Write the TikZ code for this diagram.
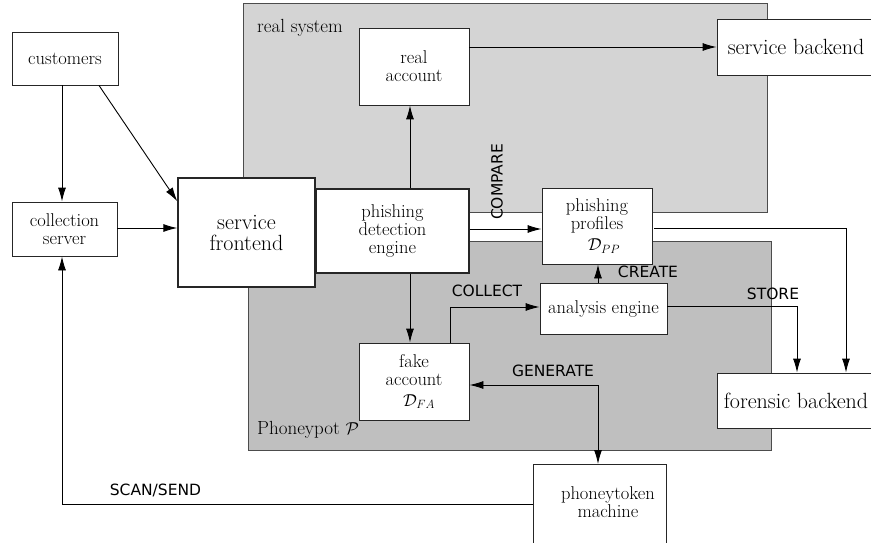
\documentclass[tikz,border=0pt]{standalone}
\usepackage{fontspec}
\newfontfamily\lblfont{DejaVu Sans}
\usetikzlibrary{arrows.meta,calc}
\begin{document}
\begin{tikzpicture}[x=1pt,y=-1pt,
  box/.style={draw=black!85, line width=0.9pt, fill=white, inner sep=0pt, align=center, font=\fontsize{18.5}{18}\selectfont},
  bigbox/.style={box, font=\fontsize{22}{21}\selectfont},
  region/.style={draw=black!70, line width=0.9pt},
  arr/.style={line width=0.9pt, -{Latex[length=14pt,width=8pt]}},
  arrb/.style={line width=0.9pt, {Latex[length=14pt,width=8pt]}-{Latex[length=14pt,width=8pt]}},
  lbl/.style={font=\lblfont\fontsize{15.5}{16}\selectfont, inner sep=0pt},
  rlbl/.style={font=\fontsize{19}{17}\selectfont, inner sep=0pt, anchor=west}]
\useasboundingbox (0,0) rectangle (871,543);
% regions
\fill[black!17] (243,3) rectangle (767,212);
\draw[region] (243,3) rectangle (767,212);
\fill[black!25] (248,241) rectangle (771,450);
\draw[region] (248,241) rectangle (771,450);
\node[rlbl] (rsl) at (257,28) {real system};
\node[rlbl] (ppl) at (257,430) {Phoneypot $\mathcal{P}$};
% nodes
\node[box, minimum width=106pt, minimum height=53pt] (cust) at (65,58.5) {customers};
\node[box, minimum width=105pt, minimum height=54pt] (coll) at (64.5,229) {collection\\server};
\node[bigbox, line width=1.4pt, minimum width=137pt, minimum height=109pt] (sf) at (246.5,232.5) {service\\frontend};
\node[box, minimum width=110pt, minimum height=77pt] (ra) at (414,66.5) {real\\account};
\node[bigbox, minimum width=158pt, minimum height=56pt] (sb) at (796,47) {service backend};
\node[box, line width=1.4pt, minimum width=153pt, minimum height=84pt] (pde) at (392.5,231) {phishing\\detection\\engine};
\node[box, minimum width=110pt, minimum height=76pt] (pp) at (597,226) {phishing\\profiles\\[3pt]\hspace*{14pt}$\mathcal{D}_{PP}$};
\node[box, minimum width=127pt, minimum height=51pt] (ae) at (603.5,308.5) {analysis engine};
\node[box, minimum width=110pt, minimum height=77pt] (fa) at (414,381.5) {fake\\account\\[3pt]\hspace*{10pt}$\mathcal{D}_{FA}$};
\node[bigbox, minimum width=158pt, minimum height=55pt] (fb) at (796,400.5) {forensic backend};
\node[box, minimum width=133pt, minimum height=96pt, anchor=north] (pm) at (599.5,464) {};
\node[font=\fontsize{18.5}{18}\selectfont, align=center, inner sep=0pt] (pmt) at (608,502) {phoneytoken\\machine};
% connectors
\draw[arr] (cust.south -| 62,0) -- (62,0 |- coll.north);
\draw[arr] ([xshift=34pt]cust.south) -- ([yshift=-24pt]sf.north west);
\draw[arr] ([yshift=1pt]coll.east) -- ([yshift=1pt]coll.east -| sf.west);
\draw[arr] ([yshift=8pt]pm.west) -| (62,0 |- coll.south);
\draw[arr] ([xshift=-4pt]ra.south |- pde.north) -- ([xshift=-4pt]ra.south);
\draw[arr] ([xshift=-4pt]fa.north |- pde.south) -- ([xshift=-4pt]fa.north);
\draw[arr] (sb.west -| ra.east) -- (sb.west);
\draw[arr] ([yshift=-3pt]pp.west -| pde.east) -- ([yshift=-3pt]pp.west);
\draw[arr] ([xshift=1pt]pp.south |- ae.north) -- ([xshift=1pt]pp.south);
\draw[arr] ([xshift=36pt]fa.north) |- ([yshift=1.5pt]ae.west);
\draw[arr] ([yshift=2pt]ae.east) -| ([xshift=1pt]fb.north);
\draw[arr] ([xshift=2pt,yshift=-2pt]pp.east) -| ([xshift=50pt]fb.north);
\draw[arrb] ([yshift=-3.5pt]fa.east) -| ([xshift=-1.5pt]pm.north);
% labels
\node[lbl, rotate=90] (lcmp) at (497,182) {COMPARE};
\node[lbl] (lcre) at (648,272) {CREATE};
\node[lbl] (lcol) at (487,291) {COLLECT};
\node[lbl] (lsto) at (773,294) {STORE};
\node[lbl] (lgen) at (553,371) {GENERATE};
\node[lbl] (lscan) at (155.5,490) {SCAN/SEND};
\end{tikzpicture}
\end{document}
